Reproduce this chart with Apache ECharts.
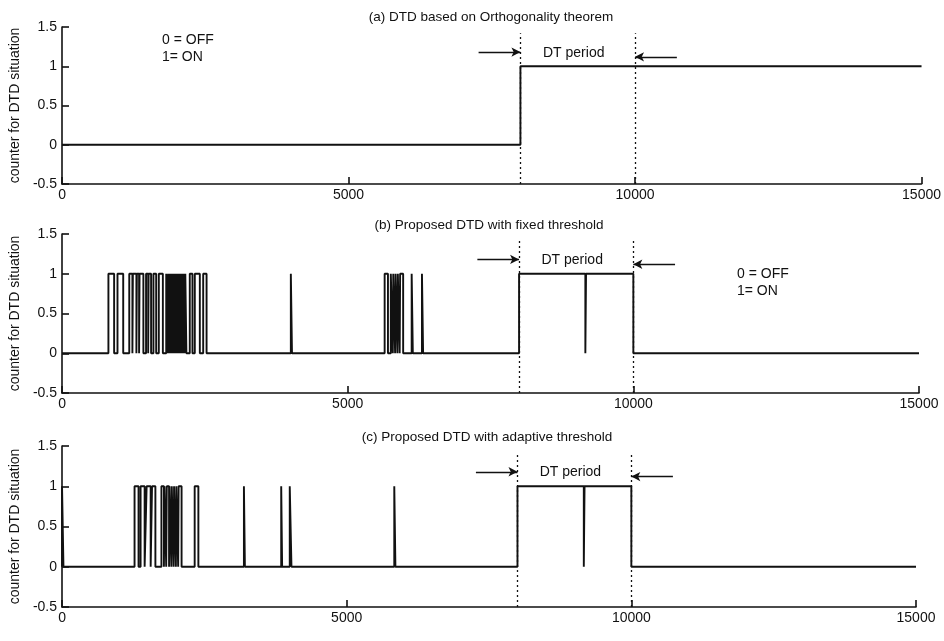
<!DOCTYPE html>
<html>
<head>
<meta charset="utf-8">
<script src="https://cdn.jsdelivr.net/npm/echarts@6/dist/echarts.min.js"></script>
<style>
  html, body { margin: 0; padding: 0; background: #ffffff; }
  #chart { width: 944px; height: 641px; }
</style>
</head>
<body>
<div id="chart"></div>
<script>
// ---- data -------------------------------------------------------------
const panelTitles = [
  '(a) DTD based on Orthogonality theorem',
  '(b) Proposed DTD with fixed threshold',
  '(c) Proposed DTD with adaptive threshold'
];
const xTicks = [0, 5000, 10000, 15000];
const yTicks = [-0.5, 0, 0.5, 1, 1.5];
const sampleEnd = 15000;
const dtStart = 8000;
const dtEnd = 10000;

// Intervals [start, end] (samples) where the DTD counter is 1 (ON)
const onA = [[8000, 15000]];

const onB = [
  [812, 912], [971, 1071], [1177, 1232], [1240, 1302], [1310, 1349], [1357, 1424],
  [1471, 1508], [1516, 1559], [1600, 1648], [1694, 1765],
  [1824, 1850], [1858, 1880], [1888, 1910], [1918, 1940], [1948, 1970], [1978, 2000],
  [2008, 2030], [2038, 2060], [2068, 2090], [2098, 2120], [2128, 2150], [2158, 2177],
  [2236, 2283], [2324, 2412], [2471, 2530],
  [4005, 4025],
  [5647, 5705], [5755, 5790], [5798, 5830], [5838, 5870], [5878, 5910], [5918, 5971],
  [6120, 6140], [6300, 6320],
  [8000, 9160], [9172, 10000]
];

const onC = [
  [0, 25],
  [1274, 1344], [1380, 1451], [1486, 1557], [1581, 1640],
  [1746, 1790], [1800, 1830], [1840, 1880], [1888, 1920], [1928, 1960], [1968, 2000],
  [2008, 2040], [2048, 2100],
  [2330, 2395], [3195, 3212], [3850, 3866], [4000, 4030], [5836, 5856],
  [8000, 9165], [9178, 10000]
];

// Annotation anchors (data units): arrows marking the DT period, label spot
const leftArrow = [7270, 1.18];      // [from x, y] -> arrow ends at dtStart
const rightArrow = [10730, 1.12];    // [from x, y] -> arrow ends at dtEnd
const dtLabelAt = [8930, 1.17];
const dtLineTop = 1.42;

// ---- styling / layout -------------------------------------------------
const INK = '#111111';
const FONT = 'Liberation Sans';
const grids = [
  { left: 62, top: 27, width: 860, height: 157 },
  { left: 61, top: 234, width: 858, height: 159 },
  { left: 58, top: 446, width: 858, height: 161 }
];
const titleSpots = [[491, 17], [489, 225], [487, 437]];
const legendSpots = [[162, 49], [737, 283]];   // "0 = OFF / 1= ON" notes (panels a, b)

// Turn ON intervals into a 0/1 step trace
function toStep(on) {
  const pts = [[0, 0]];
  on.forEach(([s, e]) => {
    pts.push([s, 0], [s, 1], [e, 1]);
    if (e < sampleEnd) pts.push([e, 0]);
  });
  const last = pts[pts.length - 1];
  if (last[0] < sampleEnd) pts.push([sampleEnd, 0]);
  return pts;
}

const traces = [onA, onB, onC].map(toStep);

const dotted = { color: INK, width: 1.3, type: [2, 3] };
const solid = { color: INK, width: 1.4, type: 'solid' };

function markers() {
  return {
    silent: true,
    animation: false,
    symbol: ['none', 'none'],
    label: { show: false },
    data: [
      [{ coord: [dtStart, yTicks[0]], lineStyle: dotted }, { coord: [dtStart, dtLineTop], lineStyle: dotted }],
      [{ coord: [dtEnd, yTicks[0]], lineStyle: dotted }, { coord: [dtEnd, dtLineTop], lineStyle: dotted }],
      [{ coord: [leftArrow[0], leftArrow[1]], lineStyle: solid },
       { coord: [dtStart, leftArrow[1]], lineStyle: solid, symbol: 'arrow', symbolSize: [7, 9] }],
      [{ coord: [rightArrow[0], rightArrow[1]], lineStyle: solid },
       { coord: [dtEnd, rightArrow[1]], lineStyle: solid, symbol: 'arrow', symbolSize: [7, 9] }]
    ]
  };
}

const xAxes = grids.map((g, i) => ({
  gridIndex: i,
  type: 'value',
  min: xTicks[0],
  max: xTicks[xTicks.length - 1],
  interval: xTicks[1] - xTicks[0],
  axisLine: { show: true, onZero: false, lineStyle: { color: INK, width: 1.6 } },
  axisTick: { show: true, inside: true, length: 7, lineStyle: { color: INK, width: 1.6 } },
  axisLabel: { color: INK, fontSize: 14, fontFamily: FONT, margin: 4, showMinLabel: true, showMaxLabel: true,
               formatter: v => String(v) },
  splitLine: { show: false }
}));

const yAxes = grids.map((g, i) => ({
  gridIndex: i,
  type: 'value',
  min: yTicks[0],
  max: yTicks[yTicks.length - 1],
  interval: yTicks[1] - yTicks[0],
  name: 'counter for DTD situation',
  nameLocation: 'middle',
  nameGap: 38,
  nameTextStyle: { color: INK, fontSize: 14, fontFamily: FONT },
  axisLine: { show: true, onZero: false, lineStyle: { color: INK, width: 1.6 } },
  axisTick: { show: true, inside: true, length: 7, lineStyle: { color: INK, width: 1.6 } },
  axisLabel: { color: INK, fontSize: 14, fontFamily: FONT, margin: 5, formatter: v => String(v) },
  splitLine: { show: false }
}));

const series = traces.map((data, i) => ({
  type: 'line',
  xAxisIndex: i,
  yAxisIndex: i,
  data: data,
  showSymbol: false,
  symbol: 'none',
  animation: false,
  lineStyle: { color: INK, width: 1.9 },
  markLine: markers(),
  markPoint: {
    silent: true,
    animation: false,
    symbol: 'rect',
    symbolSize: 1,
    itemStyle: { color: 'rgba(0,0,0,0)' },
    label: { show: true, position: 'inside', formatter: 'DT period', color: INK, fontSize: 14, fontFamily: FONT },
    data: [{ coord: dtLabelAt }]
  }
}));

const graphic = [];
panelTitles.forEach((t, i) => {
  graphic.push({
    type: 'text', x: titleSpots[i][0], y: titleSpots[i][1], silent: true,
    style: { text: t, align: 'center', verticalAlign: 'middle', fontSize: 13.5, fontFamily: FONT, fill: INK }
  });
});
legendSpots.forEach(([x, y]) => {
  graphic.push({
    type: 'text', x: x, y: y, silent: true,
    style: { text: '0 = OFF\n1= ON', align: 'left', verticalAlign: 'middle', lineHeight: 17,
             fontSize: 14, fontFamily: FONT, fill: INK }
  });
});

const chart = echarts.init(document.getElementById('chart'), null, { renderer: 'canvas' });
chart.setOption({
  backgroundColor: '#ffffff',
  animation: false,
  grid: grids,
  xAxis: xAxes,
  yAxis: yAxes,
  series: series,
  graphic: graphic
});
</script>
</body>
</html>
